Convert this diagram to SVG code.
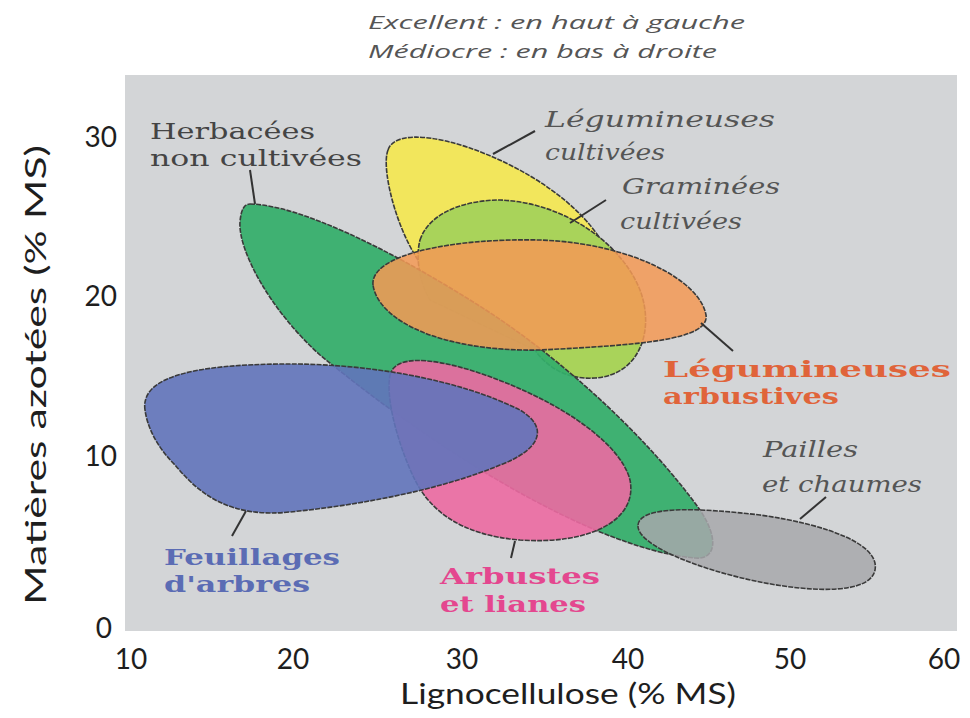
<svg xmlns="http://www.w3.org/2000/svg" width="970" height="718" viewBox="0 0 970 718">
<style>
.blob{stroke:#3a3a3a;stroke-width:1.6;stroke-dasharray:5 1.2;stroke-linejoin:round}
.lead{stroke:#333;stroke-width:2;fill:none}
.note{font-family:"Open Sans","DejaVu Sans",sans-serif;font-style:italic;font-size:18px;fill:#555}
.tick{font-family:Lato,"Open Sans",sans-serif;font-size:28px;fill:#1e1e1e}
.axis{font-family:Lato,"Open Sans",sans-serif;font-size:28px;fill:#1e1e1e}
.lab{font-family:"DejaVu Serif","Liberation Serif",serif;font-size:22px}
.it{font-style:italic;fill:#555}
.bd{font-weight:bold;font-size:22px}
</style>
<rect x="0" y="0" width="970" height="718" fill="#ffffff"/>
<rect x="125" y="75" width="832" height="556" fill="#d3d5d7"/>

<g id="note">
<text class="note" x="368" y="29" textLength="377" lengthAdjust="spacingAndGlyphs">Excellent : en haut à gauche</text>
<text class="note" x="368" y="58" textLength="349" lengthAdjust="spacingAndGlyphs">Médiocre : en bas à droite</text>
</g>

<g id="legumineuses-cultivees">
<path class="blob" fill="#f2e65c" d="M388,150 C395,128 450,135 510,165 C570,195 605,235 612,265 C620,300 600,320 570,318 C520,315 460,300 430,275 C400,245 380,170 388,150 Z"/>
</g>
<g id="graminees-cultivees">
<path class="blob" fill="#a9d35a" d="M420,240 C430,210 470,200 500,200 C560,202 620,240 640,290 C655,330 640,375 595,378 C565,380 545,365 535,350 L430,300 C418,280 416,255 420,240 Z"/>
</g>
<g id="herbacees">
<path class="blob" fill="#34ae6a" fill-opacity="0.93" d="M250,204 C300,205 390,250 470,300 C560,355 650,440 700,510 C720,540 715,560 695,558 C670,556 640,548 600,532 C500,490 400,420 320,355 C270,310 238,250 240,222 C241,210 244,204 250,204 Z"/>
</g>
<g id="legumineuses-arbustives">
<path class="blob" fill="#f39a55" fill-opacity="0.86" d="M373,285 C370,255 450,238 540,240 C630,243 700,280 706,315 C710,340 640,345 540,350 C440,352 378,320 373,285 Z"/>
</g>
<g id="arbustes-lianes">
<path class="blob" fill="#ec6aa2" fill-opacity="0.9" d="M390,375 C395,355 430,358 470,370 C550,395 620,440 630,480 C638,520 590,545 520,540 C460,535 430,510 415,480 C400,450 385,400 390,375 Z"/>
</g>
<g id="feuillages">
<path class="blob" fill="#6274bb" fill-opacity="0.9" d="M145,410 C140,375 200,365 280,364 C370,363 460,380 520,410 C550,428 540,450 500,465 C440,490 360,505 290,512 C230,518 200,495 175,465 C155,445 147,425 145,410 Z"/>
</g>
<g id="pailles">
<path class="blob" fill="#a7a8ac" fill-opacity="0.85" d="M638,525 C640,505 700,508 760,515 C830,525 880,545 875,570 C870,595 810,592 760,582 C700,570 636,545 638,525 Z"/>
</g>

<g id="connectors">
<line class="lead" x1="250" y1="170" x2="255" y2="204"/>
<line class="lead" x1="493" y1="154" x2="535" y2="131"/>
<line class="lead" x1="570" y1="223" x2="606" y2="200"/>
<line class="lead" x1="701" y1="323" x2="733" y2="351"/>
<line class="lead" x1="800" y1="519" x2="826" y2="497"/>
<line class="lead" x1="246" y1="511" x2="232" y2="536"/>
<line class="lead" x1="515" y1="541" x2="511" y2="558"/>
</g>

<g id="labels">
<text class="lab" fill="#444" x="150" y="139" textLength="165" lengthAdjust="spacingAndGlyphs">Herbacées</text>
<text class="lab" fill="#444" x="150" y="166" textLength="212" lengthAdjust="spacingAndGlyphs">non cultivées</text>
<text class="lab it" x="545" y="127" textLength="230" lengthAdjust="spacingAndGlyphs">Légumineuses</text>
<text class="lab it" x="545" y="160" textLength="120" lengthAdjust="spacingAndGlyphs">cultivées</text>
<text class="lab it" x="622" y="194" textLength="158" lengthAdjust="spacingAndGlyphs">Graminées</text>
<text class="lab it" x="620" y="229" textLength="122" lengthAdjust="spacingAndGlyphs">cultivées</text>
<text class="lab bd" fill="#e0643a" x="663" y="377" textLength="288" lengthAdjust="spacingAndGlyphs">Légumineuses</text>
<text class="lab bd" fill="#e0643a" x="663" y="404" textLength="176" lengthAdjust="spacingAndGlyphs">arbustives</text>
<text class="lab it" x="763" y="457" textLength="95" lengthAdjust="spacingAndGlyphs">Pailles</text>
<text class="lab it" x="762" y="492" textLength="160" lengthAdjust="spacingAndGlyphs">et chaumes</text>
<text class="lab bd" fill="#5b6cb4" x="164" y="565" textLength="176" lengthAdjust="spacingAndGlyphs">Feuillages</text>
<text class="lab bd" fill="#5b6cb4" x="164" y="592" textLength="146" lengthAdjust="spacingAndGlyphs">d'arbres</text>
<text class="lab bd" fill="#e4478f" x="440" y="584" textLength="160" lengthAdjust="spacingAndGlyphs">Arbustes</text>
<text class="lab bd" fill="#e4478f" x="440" y="612" textLength="146" lengthAdjust="spacingAndGlyphs">et lianes</text>
</g>

<g id="axes">
<text class="tick" x="117" y="147" text-anchor="end">30</text>
<text class="tick" x="117" y="306" text-anchor="end">20</text>
<text class="tick" x="117" y="466" text-anchor="end">10</text>
<text class="tick" x="112" y="638" text-anchor="end">0</text>
<text class="tick" x="131" y="669" text-anchor="middle">10</text>
<text class="tick" x="293" y="669" text-anchor="middle">20</text>
<text class="tick" x="462" y="669" text-anchor="middle">30</text>
<text class="tick" x="628" y="669" text-anchor="middle">40</text>
<text class="tick" x="790" y="669" text-anchor="middle">50</text>
<text class="tick" x="944" y="669" text-anchor="middle">60</text>
<text class="axis" x="568" y="704" text-anchor="middle" textLength="336" lengthAdjust="spacingAndGlyphs">Lignocellulose (% MS)</text>
<text class="axis" transform="translate(46,375) rotate(-90)" text-anchor="middle" font-size="40" textLength="460" lengthAdjust="spacingAndGlyphs">Matières azotées (% MS)</text>
</g>
</svg>
